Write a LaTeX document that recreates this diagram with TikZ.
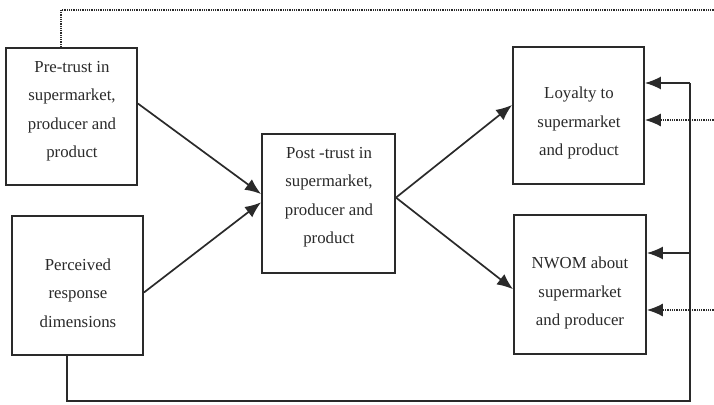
\documentclass[tikz,border=0pt]{standalone}
\usepackage{fontspec}
\setmainfont{Liberation Serif}
\usetikzlibrary{arrows.meta,calc}
\definecolor{ink}{HTML}{2A2A2A}
\begin{document}
\begin{tikzpicture}[x=1pt,y=-1pt,
  box/.style={draw=ink,line width=1.9pt,inner sep=0pt},
  lbl/.style={text=ink,align=center,inner sep=0pt,font=\fontsize{16.8}{28.5}\selectfont},
  tip/.style={-{Latex[length=16pt,width=13pt]}},
  link/.style={draw=ink,line width=1.7pt,tip},
  fb/.style={draw=ink,line width=1.5pt},
  dots/.style={draw=ink,line width=1.3pt,dash pattern=on 1pt off 0.8pt}]
\useasboundingbox (0,0) rectangle (714,404);
\clip (0,0) rectangle (714,404);
\fill[white] (0,0) rectangle (714,404);

% boxes
\node[box,minimum width=131pt,minimum height=137pt] (pre)  at (71.5,116.5) {};
\node[box,minimum width=131pt,minimum height=139pt] (perc) at (77.5,285.5) {};
\node[box,minimum width=133pt,minimum height=139pt] (post) at (328.5,203.5) {};
\node[box,minimum width=131pt,minimum height=137pt] (loy)  at (578.5,115.5) {};
\node[box,minimum width=132pt,minimum height=139pt] (nwom) at (580,284.5) {};

% box texts
\node[lbl] (preT)  at (72,111)   {Pre-trust in\\supermarket,\\producer and\\product};
\node[lbl] (percT) at (78,293)   {Perceived\\response\\dimensions};
\node[lbl] (postT) at (329,197)  {Post -trust in\\supermarket,\\producer and\\product};
\node[lbl] (loyT)  at (579,123)  {Loyalty to\\supermarket\\and product};
\node[lbl] (nwomT) at (580,293)  {NWOM about\\supermarket\\and producer};

% main paths
\draw[link] (pre.11)  -- (post.172);
\draw[link] (perc.-6) -- (post.179);
\draw[link] (post.5)  -- (loy.171);
\draw[link] (post.5)  -- (nwom.184);

% solid feedback loop from the perceived response dimensions
\coordinate (fbL) at (67,401);
\coordinate (fbR) at (690,401);
\coordinate (fbT) at (690,83);
\coordinate (fbM) at (690,253);
\draw[fb] (perc.south -| fbL) -- (fbL) -- (fbR) -- (fbT);
\draw[fb,tip] (fbT) -- (fbT -| loy.east);
\draw[fb,tip] (fbM) -- (fbM -| nwom.east);

% dotted link from pre-trust
\coordinate (dTL) at (61,10);
\coordinate (dTR) at (718,10);
\coordinate (dA) at (718,120);
\coordinate (dB) at (718,310);
\draw[dots] (pre.north -| dTL) -- (dTL) -- (dTR) -- (dB);
\draw[dots,tip] (dA) -- (dA -| loy.east);
\draw[dots,tip] (dB) -- (dB -| nwom.east);
\end{tikzpicture}
\end{document}
